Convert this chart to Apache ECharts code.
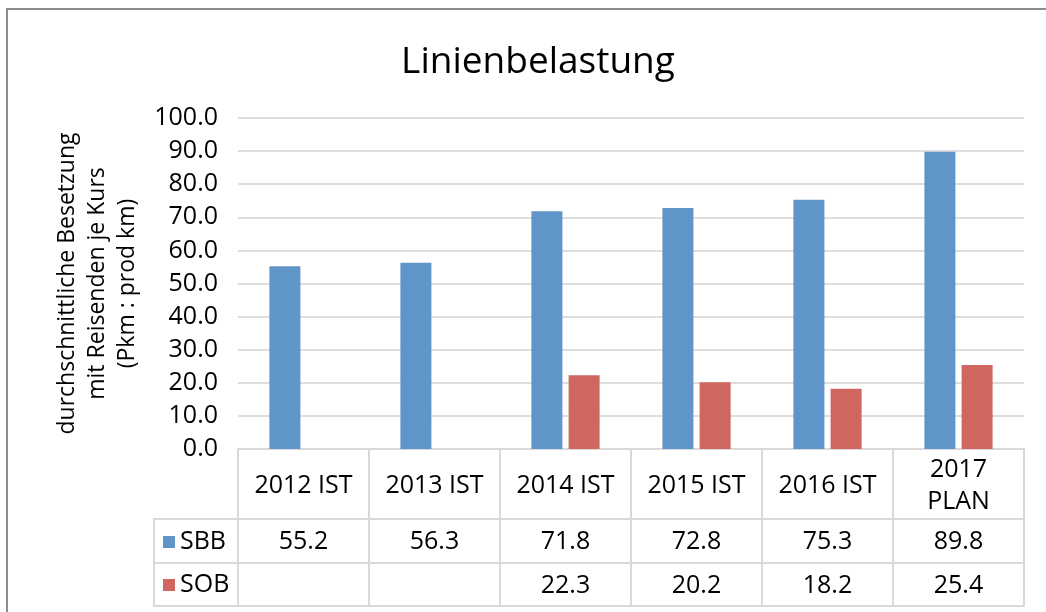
<!DOCTYPE html>
<html>
<head>
<meta charset="utf-8">
<script src="https://cdn.jsdelivr.net/npm/echarts@6/dist/echarts.min.js"></script>
<style>
  html, body { margin: 0; padding: 0; background: #fff; }
  #main { width: 1046px; height: 612px; }
</style>
</head>
<body>
<div id="main"></div>
<script>
var chart = echarts.init(document.getElementById('main'));

// data
var kategorien = ['2012 IST', '2013 IST', '2014 IST', '2015 IST', '2016 IST', '2017\nPLAN'];
var sbb = [55.2, 56.3, 71.8, 72.8, 75.3, 89.8];
var sob = [null, null, 22.3, 20.2, 18.2, 25.4];
var yTicks = [0, 10, 20, 30, 40, 50, 60, 70, 80, 90, 100];

var font = 'Open Sans';
var tabelle = '#d9d9d9';

function fmt(v) {
  return v == null ? '' : v.toFixed(1);
}

// one extra category axis per table row
function zeile(offset, tickLen, margin, werte) {
  return {
    type: 'category',
    data: kategorien,
    position: 'bottom',
    offset: offset,
    axisLine: { show: true, lineStyle: { color: tabelle, width: 2 } },
    axisTick: { show: tickLen > 0, length: tickLen, interval: 0, lineStyle: { color: tabelle, width: 2 } },
    axisLabel: {
      show: !!werte,
      interval: 0,
      margin: margin,
      verticalAlign: 'middle',
      color: '#000',
      fontFamily: font,
      fontSize: 25,
      lineHeight: 32,
      formatter: function (v, i) { return werte ? fmt(werte[i]) : ''; }
    }
  };
}

option = {
  animation: false,
  backgroundColor: '#fff',
  title: {
    text: 'Linienbelastung',
    left: 533,
    textAlign: 'center',
    top: 39,
    textStyle: { fontFamily: font, fontSize: 37, fontWeight: 'normal', color: '#000' }
  },
  legend: {
    data: ['SBB', 'SOB'],
    orient: 'vertical',
    left: 158,
    top: 523,
    itemWidth: 12,
    itemHeight: 12,
    itemGap: 15,
    icon: 'rect',
    textStyle: { fontFamily: font, fontSize: 25, color: '#000', lineHeight: 28 }
  },
  grid: { left: 238, right: 22, top: 118, bottom: 163, containLabel: false },
  xAxis: [
    {
      type: 'category',
      data: kategorien,
      position: 'bottom',
      axisLine: { show: true, lineStyle: { color: tabelle, width: 2 } },
      axisTick: { show: true, length: 70, interval: 0, lineStyle: { color: tabelle, width: 2 } },
      axisLabel: {
        interval: 0,
        margin: 37,
        verticalAlign: 'middle',
        color: '#000',
        fontFamily: font,
        fontSize: 25,
        lineHeight: 32
      }
    },
    zeile(70, 44, 23, sbb),
    zeile(114, 43, 23, sob),
    zeile(157, 0, 0, null)
  ],
  yAxis: {
    type: 'value',
    min: yTicks[0],
    max: yTicks[yTicks.length - 1],
    interval: 10,
    name: 'durchschnittliche Besetzung\nmit Reisenden je Kurs\n(Pkm : prod km)',
    nameLocation: 'middle',
    nameGap: 96,
    nameTextStyle: { fontFamily: font, fontSize: 23, lineHeight: 30, color: '#000' },
    axisLine: { show: false },
    axisTick: { show: false },
    axisLabel: {
      margin: 20,
      color: '#000',
      fontFamily: font,
      fontSize: 25,
      formatter: function (v) { return v.toFixed(1); }
    },
    splitLine: { lineStyle: { color: '#dedede', width: 2 } }
  },
  series: [
    {
      name: 'SBB',
      type: 'bar',
      data: sbb,
      barWidth: 31,
      barGap: '20%',
      itemStyle: { color: '#6095c9' }
    },
    {
      name: 'SOB',
      type: 'bar',
      data: sob,
      barWidth: 31,
      barGap: '20%',
      itemStyle: { color: '#cf665f' }
    }
  ],
  graphic: [
    // outer frame
    { type: 'rect', shape: { x: 7, y: 9, width: 1100, height: 700 }, style: { fill: null, stroke: '#8c8c8c', lineWidth: 2 }, silent: true },
    // legend column of the data table
    { type: 'polyline', shape: { points: [[238, 519], [154, 519], [154, 606], [238, 606]] }, style: { fill: null, stroke: tabelle, lineWidth: 2 }, silent: true },
    { type: 'line', shape: { x1: 154, y1: 563, x2: 238, y2: 563 }, style: { stroke: tabelle, lineWidth: 2 }, silent: true }
  ]
};

chart.setOption(option);
</script>
</body>
</html>
